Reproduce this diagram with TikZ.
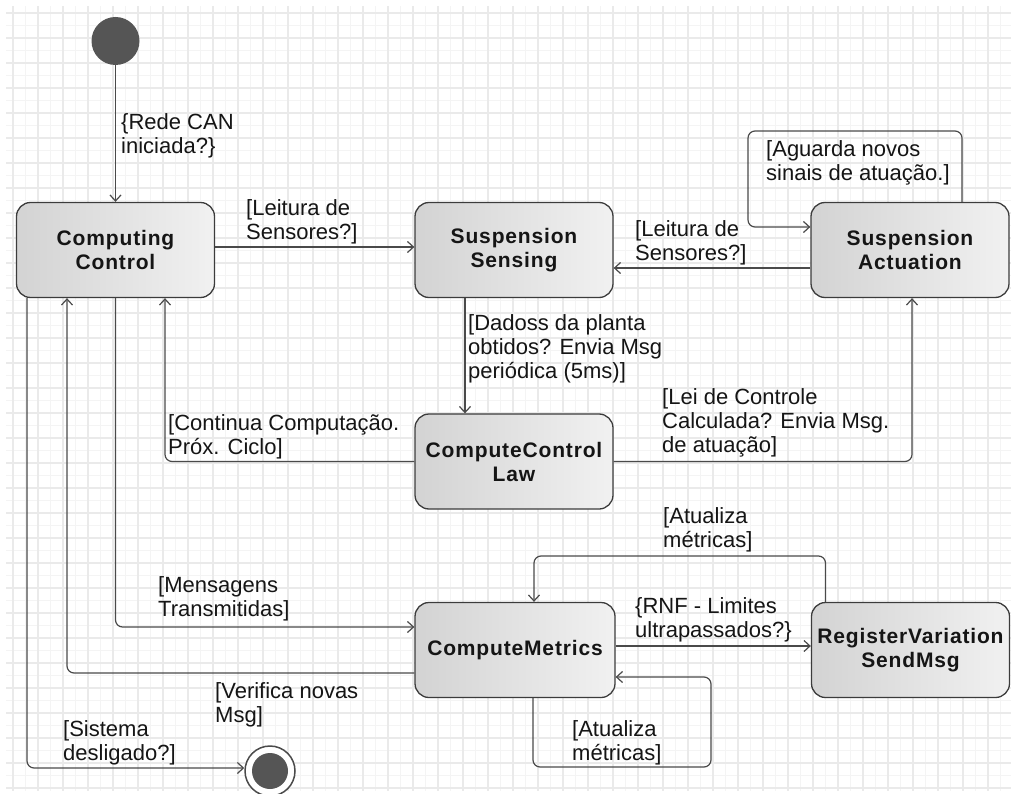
\documentclass[tikz,border=0pt]{standalone}
\usepackage{fontspec}
\setmainfont{Liberation Sans}
\usetikzlibrary{arrows.meta,calc}
\definecolor{edgec}{HTML}{4A4A4A}
\definecolor{borderc}{HTML}{3C3C3C}
\definecolor{dotc}{HTML}{555555}
\definecolor{textc}{HTML}{151515}
\definecolor{statel}{HTML}{D3D3D3}
\definecolor{stater}{HTML}{F1F1F1}
\definecolor{gridmaj}{HTML}{EAEAEA}
\definecolor{gridmin}{HTML}{F4F4F4}
\newcommand\statefont{\fontsize{21}{24}\selectfont\bfseries\addfontfeatures{LetterSpace=4}}
\newcommand\lblfont{\fontsize{22}{24}\selectfont}
\begin{document}
\begin{tikzpicture}[x=1pt,y=-1pt,
  state/.style={draw=borderc, line width=1.3pt, rounded corners=14pt,
    minimum width=198pt, minimum height=95pt, left color=statel, right color=stater,
    font=\statefont, text=textc, align=center, inner sep=0pt},
  edge/.style={draw=edgec, line width=1.2pt, rounded corners=7pt,
    -{Straight Barb[length=6pt,width=11pt]}},
  % guards are placed by the baseline of their last line
  lbl/.style={anchor=base west, align=left, inner sep=0pt, font=\lblfont, text=textc}]
\useasboundingbox (0,0) rectangle (1011,794);
\fill[white] (0,0) rectangle (1011,794);

% background grid
\begin{scope}
\clip (6,7) rectangle (1011,790);
\foreach \i in {0,...,81} {
  \draw[gridmin, line width=1pt] ({0.5+12.5*\i},0) -- ({0.5+12.5*\i},794);
}
\foreach \j in {0,...,64} {
  \draw[gridmin, line width=1pt] (0,{0.5+12.5*\j}) -- (1011,{0.5+12.5*\j});
}
\foreach \i in {0,...,40} {
  \draw[gridmaj, line width=1.3pt] ({13+25*\i},0) -- ({13+25*\i},794);
}
\foreach \j in {0,...,32} {
  \draw[gridmaj, line width=1.3pt] (0,{13+25*\j}) -- (1011,{13+25*\j});
}
\end{scope}

% states
\node[circle, fill=dotc, minimum size=48pt, inner sep=0pt] (init) at (115.5,41) {};
\node[state] (CC)  at (115.5,250) {Computing\\Control};
\node[state] (SS)  at (514,250)   {Suspension\\Sensing};
\node[state] (SA)  at (910,250)   {Suspension\\Actuation};
\node[state] (CCL) at (514,461.5) {ComputeControl\\Law};
\node[state, minimum width=200pt] (CM) at (515,650) {ComputeMetrics};
\node[state] (RV)  at (910.5,650) {RegisterVariation\\SendMsg};
\node[circle, draw=edgec, line width=1.5pt, fill=white, minimum size=50pt, inner sep=0pt] (fin) at (270,771) {};
\fill[dotc] (fin.center) circle (18pt);

% bend points
\coordinate (sa1) at (748,131);
\coordinate (rv1) at (534,556);
\coordinate (cm1) at (711,767);

% transitions
\draw[edge] (init) -- (CC);
\draw[edge] ([yshift=3pt]CC.east) -- ([yshift=3pt]SS.west);
\draw[edge] ([yshift=-18pt]SA.west) -- ([yshift=-18pt]SS.east);
\draw[edge] ([xshift=52pt]SA.north) |- (sa1) |- ([yshift=23pt]SA.west);
\draw[edge] ([xshift=-49pt]SS.south) -- ([xshift=-49pt]CCL.north);
\draw[edge] (CCL.west) -| ([xshift=49.5pt]CC.south);
\draw[edge] (CCL.east) -| ([xshift=2pt]SA.south);
\draw[edge] (CC.south) |- ([yshift=23pt]CM.west);
\draw[edge] ([yshift=-23pt]CM.west) -| ([xshift=-48.5pt]CC.south);
\draw[edge] ([xshift=-88.5pt]CC.south) |- ([yshift=3pt]fin.west);
\draw[edge] ([yshift=4pt]CM.east) -- ([yshift=4pt]RV.west);
\draw[edge] ([xshift=-85pt]RV.north) |- (rv1) -- (rv1 |- CM.north);
\draw[edge] ([xshift=18pt]CM.south) |- (cm1) |- ([yshift=-27pt]CM.east);

% guards
\node[lbl] (l1)  at (121,154) {\{Rede CAN\\iniciada?\}};
\node[lbl] (l2)  at (246,240) {[Leitura de\\Sensores?]};
\node[lbl] (l3)  at (635,260) {[Leitura de\\Sensores?]};
\node[lbl] (l4)  at (766,181) {[Aguarda novos\\sinais de atuação.]};
\node[lbl] (l5)  at (468,378) {[Dadoss da planta\\obtidos? Envia Msg\\periódica (5ms)]};
\node[lbl] (l6)  at (168,454) {[Continua Computação.\\Próx. Ciclo]};
\node[lbl] (l7)  at (662,452) {[Lei de Controle\\Calculada? Envia Msg.\\de atuação]};
\node[lbl] (l8)  at (158,616) {[Mensagens\\Transmitidas]};
\node[lbl] (l9)  at (215,722) {[Verifica novas\\Msg]};
\node[lbl] (l10) at (63,760)  {[Sistema\\desligado?]};
\node[lbl] (l11) at (663,547) {[Atualiza\\métricas]};
\node[lbl] (l12) at (635,637) {\{RNF - Limites\\ultrapassados?\}};
\node[lbl] (l13) at (572,760) {[Atualiza\\métricas]};
\end{tikzpicture}
\end{document}
